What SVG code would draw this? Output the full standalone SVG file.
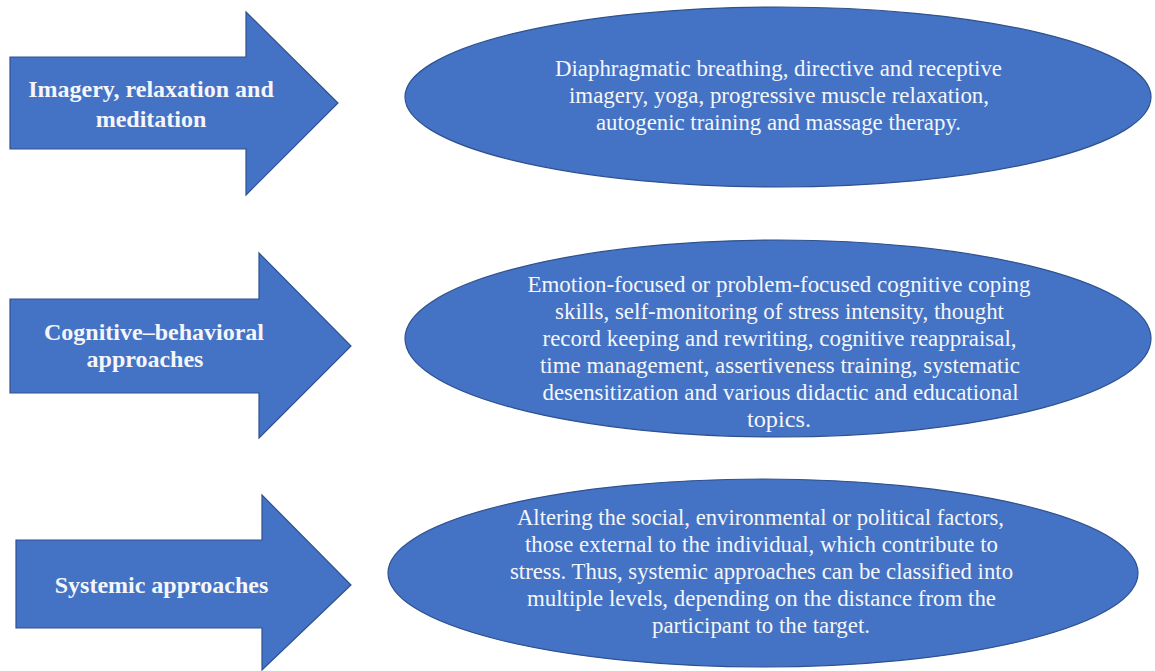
<svg xmlns="http://www.w3.org/2000/svg" width="1155" height="671" viewBox="0 0 1155 671">
<style>
.shape{fill:#4472C4;stroke:#2F528F;stroke-width:1.2}
.lbl{font-family:"Liberation Serif","Times New Roman",serif;font-weight:bold;font-size:24px;fill:#F4F6FA;text-anchor:middle}
.txt{font-family:"Liberation Serif","Times New Roman",serif;font-size:23px;fill:#F4F6FA;text-anchor:middle}
</style>
<rect width="1155" height="671" fill="#FFFFFF"/>
<g id="arrow1">
<path class="shape" d="M10,57 L246,57 L246,12 L338,103 L246,195 L246,149 L10,149 Z"/>
<text class="lbl" x="151" y="97">Imagery, relaxation and</text>
<text class="lbl" x="151" y="127">meditation</text>
</g>
<g id="ellipse1">
<ellipse class="shape" cx="778" cy="97" rx="373" ry="90"/>
<text class="txt" x="778.5" y="76" textLength="447" lengthAdjust="spacingAndGlyphs">Diaphragmatic breathing, directive and receptive</text>
<text class="txt" x="779" y="103" textLength="420" lengthAdjust="spacingAndGlyphs">imagery, yoga, progressive muscle relaxation,</text>
<text class="txt" x="778.5" y="130" textLength="365" lengthAdjust="spacingAndGlyphs">autogenic training and massage therapy.</text>
</g>
<g id="arrow2">
<path class="shape" d="M10,299 L259,299 L259,253 L351,346 L259,438 L259,393 L10,393 Z"/>
<text class="lbl" x="154" y="340">Cognitive–behavioral</text>
<text class="lbl" x="145" y="367">approaches</text>
</g>
<g id="ellipse2">
<ellipse class="shape" cx="778" cy="338.5" rx="373" ry="98.5"/>
<text class="txt" x="779" y="292" textLength="503" lengthAdjust="spacingAndGlyphs">Emotion-focused or problem-focused cognitive coping</text>
<text class="txt" x="779.5" y="319" textLength="449" lengthAdjust="spacingAndGlyphs">skills, self-monitoring of stress intensity, thought</text>
<text class="txt" x="779.5" y="346" textLength="474" lengthAdjust="spacingAndGlyphs">record keeping and rewriting, cognitive reappraisal,</text>
<text class="txt" x="780" y="373" textLength="480" lengthAdjust="spacingAndGlyphs">time management, assertiveness training, systematic</text>
<text class="txt" x="780.5" y="400" textLength="476" lengthAdjust="spacingAndGlyphs">desensitization and various didactic and educational</text>
<text class="txt" x="779" y="427" textLength="64" lengthAdjust="spacingAndGlyphs">topics.</text>
</g>
<g id="arrow3">
<path class="shape" d="M16,540 L262,540 L262,495 L351,585 L262,670 L262,628 L16,628 Z"/>
<text class="lbl" x="161.5" y="593">Systemic approaches</text>
</g>
<g id="ellipse3">
<ellipse class="shape" cx="763" cy="573" rx="375" ry="94"/>
<text class="txt" x="760.5" y="525" textLength="487" lengthAdjust="spacingAndGlyphs">Altering the social, environmental or political factors,</text>
<text class="txt" x="761.5" y="552" textLength="473" lengthAdjust="spacingAndGlyphs">those external to the individual, which contribute to</text>
<text class="txt" x="761.5" y="579" textLength="503" lengthAdjust="spacingAndGlyphs">stress. Thus, systemic approaches can be classified into</text>
<text class="txt" x="761.5" y="606" textLength="469" lengthAdjust="spacingAndGlyphs">multiple levels, depending on the distance from the</text>
<text class="txt" x="761" y="633" textLength="218" lengthAdjust="spacingAndGlyphs">participant to the target.</text>
</g>
<g id="connectors"></g>
</svg>
